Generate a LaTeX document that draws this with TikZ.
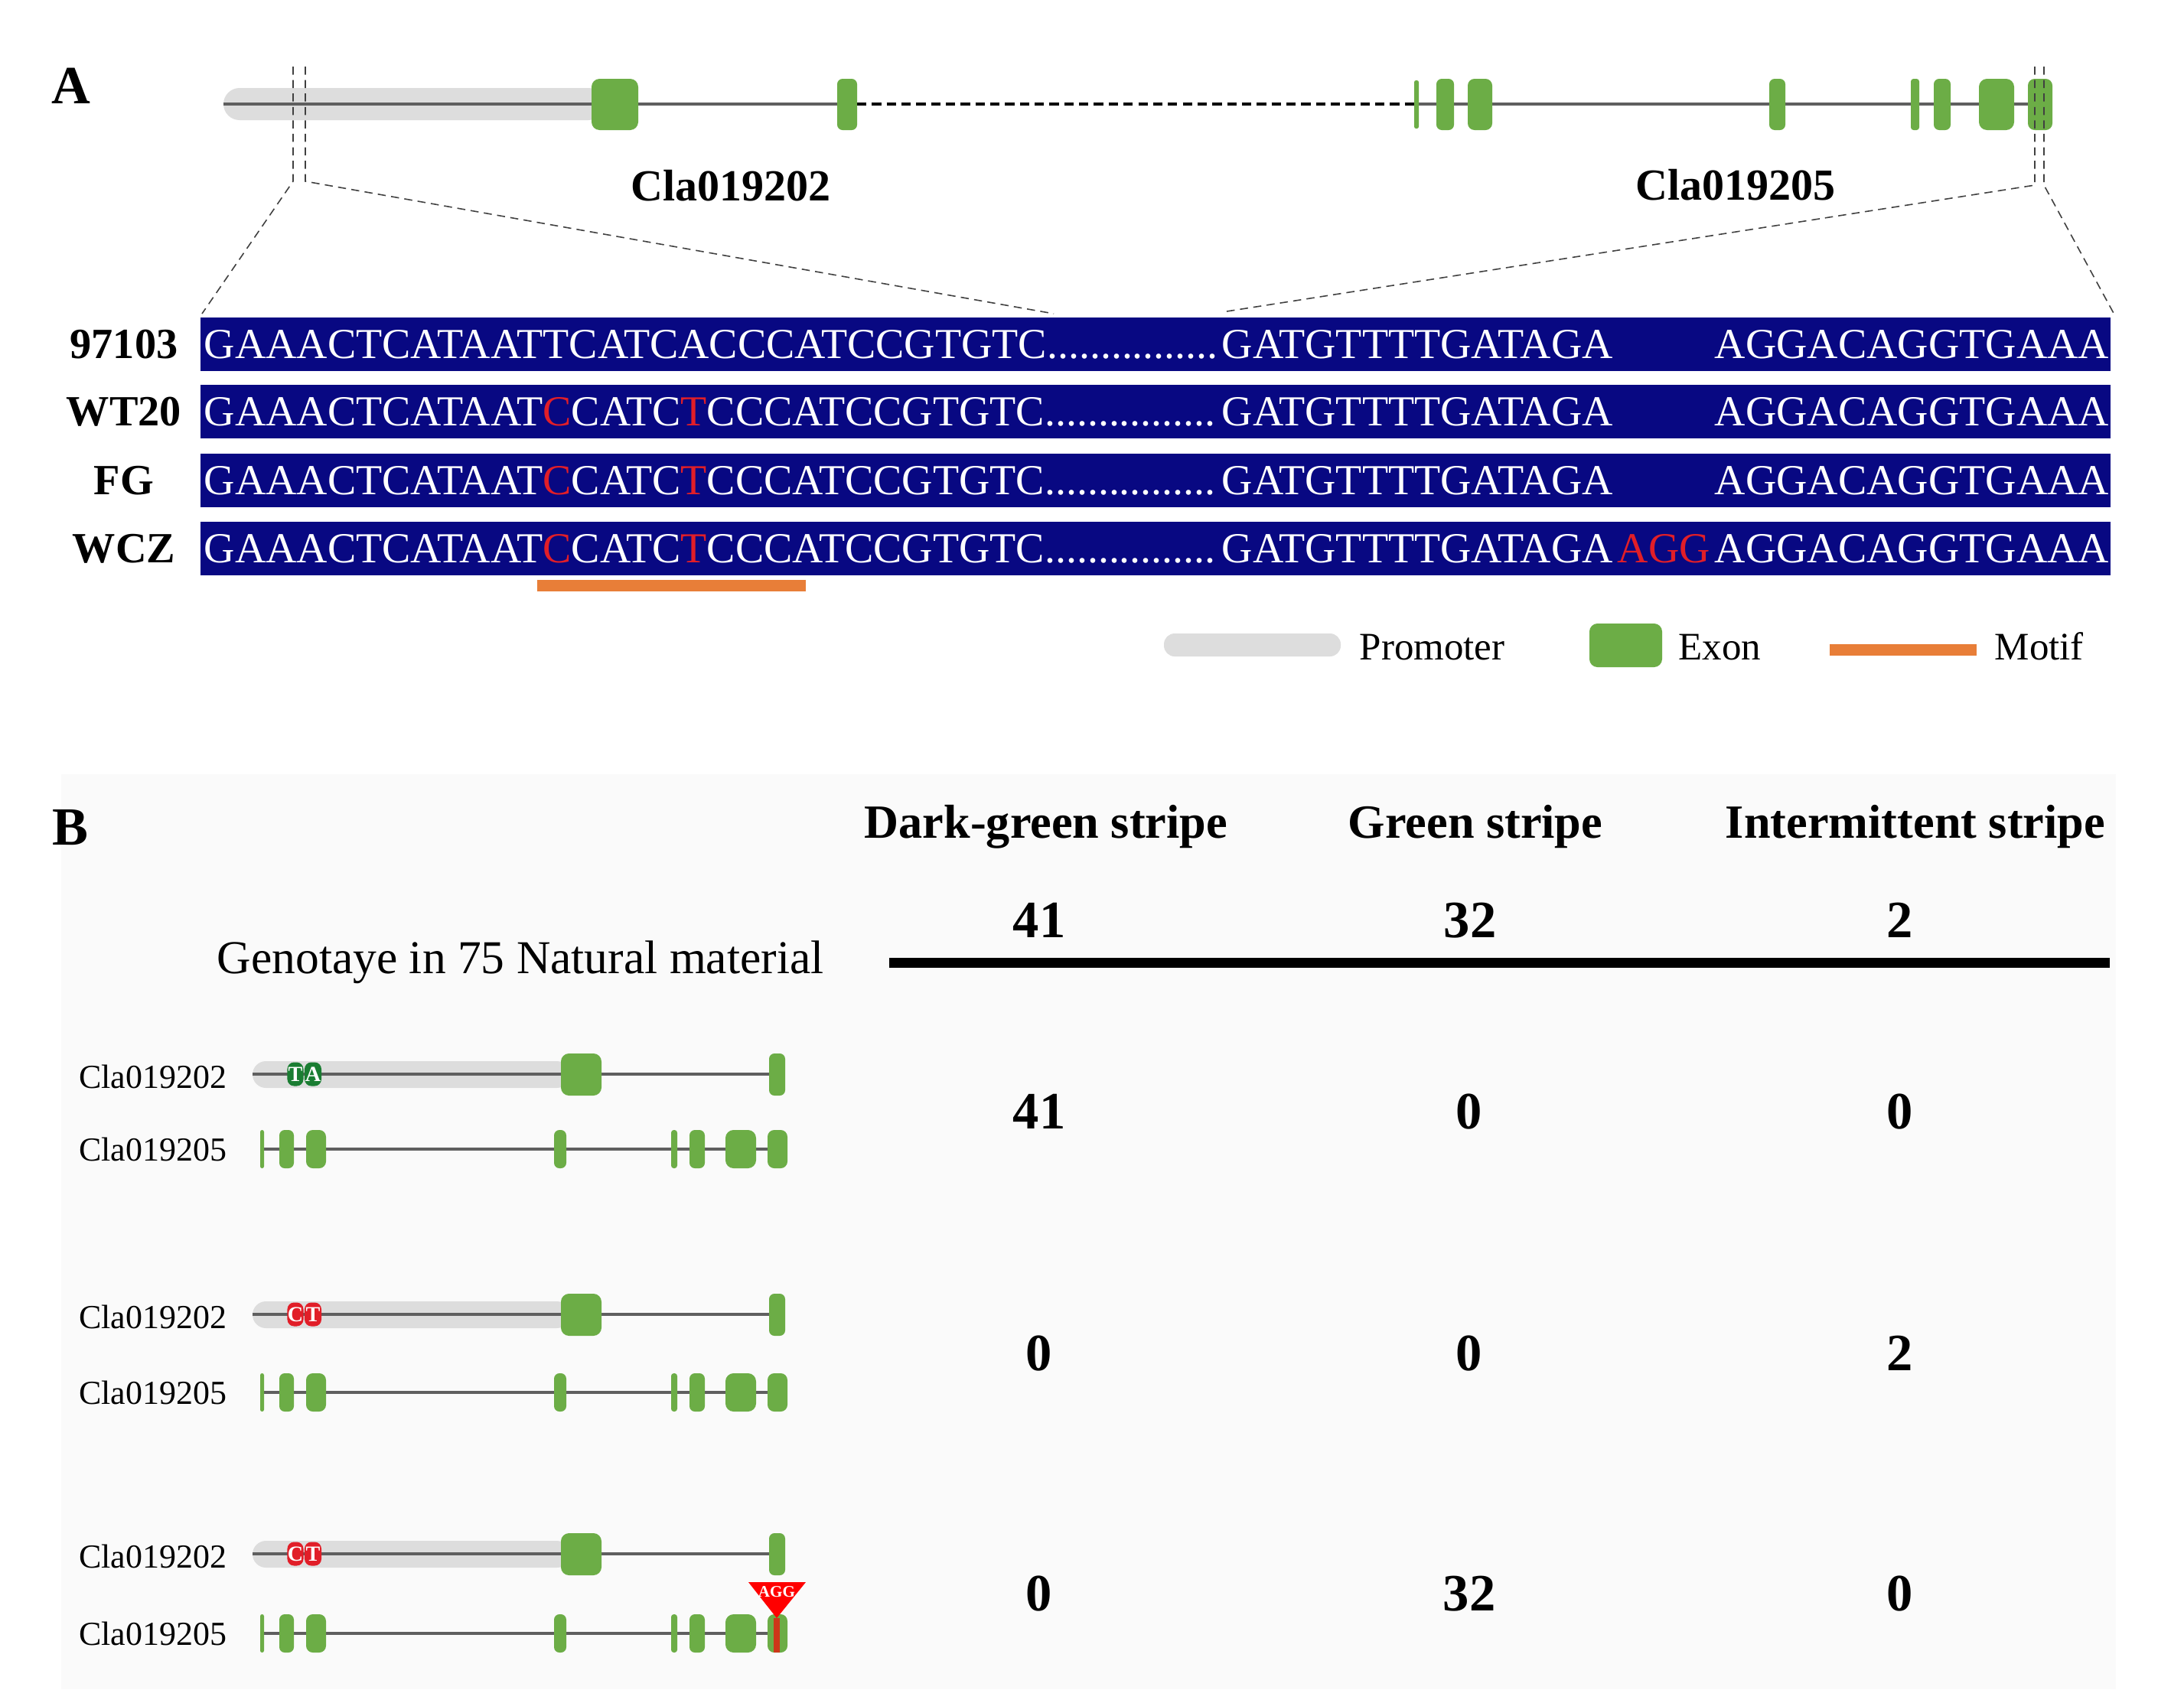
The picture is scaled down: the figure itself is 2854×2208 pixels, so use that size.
\documentclass[tikz,border=0pt]{standalone}
\usepackage{fontspec}
\setmainfont{Liberation Serif}
\definecolor{exon}{RGB}{108,173,70}
\definecolor{prom}{RGB}{221,221,221}
\definecolor{navybox}{RGB}{8,8,130}
\definecolor{mut}{RGB}{225,30,40}
\definecolor{motif}{RGB}{232,126,56}
\definecolor{snpg}{RGB}{26,125,50}
\definecolor{intron}{RGB}{95,95,95}
\definecolor{stem}{RGB}{205,55,25}
\newcommand{\exonrect}[5][2.5pt]{\fill[exon,rounded corners=#1] (#2,#4) rectangle (#3,#5);}
\begin{document}
\begin{tikzpicture}[x=0.01cm,y=-0.01cm,
  panel/.style={inner sep=0pt, font=\fontsize{20}{22}\selectfont\bfseries},
  lbl/.style={inner sep=0pt, font=\fontsize{16}{18}\selectfont\bfseries},
  genelbl/.style={inner sep=0pt, font=\fontsize{16.5}{18}\selectfont\bfseries},
  seq/.style={inner sep=0pt, text=white, font=\fontsize{15.9}{18}\selectfont},
  legtxt/.style={inner sep=0pt, font=\fontsize{14.5}{16}\selectfont},
  head/.style={inner sep=0pt, font=\fontsize{17.7}{20}\selectfont\bfseries},
  num/.style={inner sep=0pt, font=\fontsize{19.5}{22}\selectfont\bfseries},
  glbl/.style={inner sep=0pt, font=\fontsize{12.5}{14}\selectfont},
  zoomline/.style={densely dashed, line width=0.45pt, draw=black!75},
  intronline/.style={draw=intron, line width=0.9pt},
  snpbox/.style={rounded corners=2.5pt, inner sep=0pt, text=white, font=\fontsize{8}{9}\selectfont\bfseries}
]
\useasboundingbox (0,0) rectangle (2854,2208);
\fill[white] (0,0) rectangle (2854,2208);
\fill[black!2] (80,1012) rectangle (2765,2208);

% ---------------- Panel A ----------------
\node[panel] (pA) at (93,112) {A};

% promoter and gene structure
\fill[prom, rounded corners=6pt] (292,115) rectangle (790,157);
\draw[intronline] (292,136) -- (1120,136);
\draw[black, line width=0.9pt, dash pattern=on 3.5pt off 2pt] (1120,136) -- (1848,136);
\draw[intronline] (1848,136) -- (2682,136);
\exonrect[3pt]{773}{834}{103}{170}
\exonrect[2pt]{1094}{1120}{103}{170}
\exonrect[0.7pt]{1848}{1854}{105}{168}
\exonrect[2pt]{1877}{1900}{103}{170}
\exonrect[2.5pt]{1918}{1950}{103}{170}
\exonrect[2pt]{2312}{2333}{103}{170}
\exonrect[1pt]{2497}{2508}{103}{170}
\exonrect[2pt]{2527}{2549}{103}{170}
\exonrect[3pt]{2586}{2632}{103}{170}
\exonrect[2.5pt]{2650}{2682}{103}{170}

\node[genelbl] (g1) at (955,243) {Cla019202};
\node[genelbl] (g2) at (2268,242) {Cla019205};

% zoom lines
\coordinate (zl1t) at (383,87);  \coordinate (zl1b) at (383,237);
\coordinate (zl2t) at (399,87);  \coordinate (zl2b) at (399,237);
\coordinate (zr1t) at (2659,87); \coordinate (zr1b) at (2659,242);
\coordinate (zr2t) at (2671,87); \coordinate (zr2b) at (2671,242);
\coordinate (sl1) at (264,410);  \coordinate (sl2) at (1377,410);
\coordinate (sr1) at (1603,407); \coordinate (sr2) at (2764,413);
\draw[zoomline] (zl1t) -- (zl1b) -- (sl1);
\draw[zoomline] (zl2t) -- (zl2b) -- (sl2);
\draw[zoomline] (zr1t) -- (zr1b) -- (sr1);
\draw[zoomline] (zr2t) -- (zr2b) -- (sr2);

% sequence rows
\fill[navybox] (262,415) rectangle (2758,485);
\fill[navybox] (262,503) rectangle (2758,573);
\fill[navybox] (262,593) rectangle (2758,663);
\fill[navybox] (262,682) rectangle (2758,752);

\node[lbl, anchor=base] (r1) at (162,468) {97103};
\node[lbl, anchor=base] (r2) at (162,556) {WT20};
\node[lbl, anchor=base] (r3) at (162,646) {FG};
\node[lbl, anchor=base] (r4) at (162,735) {WCZ};

\node[seq, anchor=base west] (s1a) at (266,468) {GAAACTCATAATTCATCACCCATCCGTGTC................};
\node[seq, anchor=base west] (s1b) at (1596,468) {GATGTTTTGATAGA};
\node[seq, anchor=base east] (s1c) at (2757,468) {AGGACAGGTGAAA};

\node[seq, anchor=base west] (s2a) at (266,556) {GAAACTCATAAT\textcolor{mut}{C}CATC\textcolor{mut}{T}CCCATCCGTGTC................};
\node[seq, anchor=base west] (s2b) at (1596,556) {GATGTTTTGATAGA};
\node[seq, anchor=base east] (s2c) at (2757,556) {AGGACAGGTGAAA};

\node[seq, anchor=base west] (s3a) at (266,646) {GAAACTCATAAT\textcolor{mut}{C}CATC\textcolor{mut}{T}CCCATCCGTGTC................};
\node[seq, anchor=base west] (s3b) at (1596,646) {GATGTTTTGATAGA};
\node[seq, anchor=base east] (s3c) at (2757,646) {AGGACAGGTGAAA};

\node[seq, anchor=base west] (s4a) at (266,735) {GAAACTCATAAT\textcolor{mut}{C}CATC\textcolor{mut}{T}CCCATCCGTGTC................};
\node[seq, anchor=base west] (s4b) at (1596,735) {GATGTTTTGATAGA};
\node[seq, anchor=base west, text=mut] (s4i) at (2113,735) {AGG};
\node[seq, anchor=base east] (s4c) at (2757,735) {AGGACAGGTGAAA};

% motif bar
\fill[motif] (702,758) rectangle (1053,773);

% legend
\fill[prom, rounded corners=4pt] (1521,828) rectangle (1752,858);
\node[legtxt, anchor=base west] (lp) at (1776,862) {Promoter};
\fill[exon, rounded corners=3pt] (2077,815) rectangle (2172,872);
\node[legtxt, anchor=base west] (le) at (2193,862) {Exon};
\fill[motif] (2391,842) rectangle (2583,857);
\node[legtxt, anchor=base west] (lm) at (2606,862) {Motif};

% ---------------- Panel B ----------------
\node[panel] (pB) at (92,1082) {B};

\node[head, anchor=base] (h1) at (1367,1095) {Dark-green stripe};
\node[head, anchor=base] (h2) at (1928,1095) {Green stripe};
\node[head, anchor=base] (h3) at (2503,1095) {Intermittent stripe};

\node[num, anchor=base] (t1) at (1358,1225) {41};
\node[num, anchor=base] (t2) at (1921,1225) {32};
\node[num, anchor=base] (t3) at (2483,1225) {2};

\node[inner sep=0pt, font=\fontsize{17.5}{20}\selectfont, anchor=base west] (gt) at (283,1272) {Genotaye in 75 Natural material};

\coordinate (tl) at (1162,1258); \coordinate (tr) at (2757,1258);
\draw[black, line width=3.7pt] (tl) -- (tr);

\foreach \ya/\yb/\sc/\la/\lb/\na/\nb/\nc [count=\i] in
  {1404/1502/snpg/T/A/41/0/0, 1718/1820/mut/C/T/0/0/2, 2031/2135/mut/C/T/0/32/0} {
  % Cla019202
  \node[glbl, anchor=base east] (ga\i) at (297,{\ya+18}) {Cla019202};
  \fill[prom, rounded corners=5pt] (330,{\ya-17}) rectangle (745,{\ya+18});
  \draw[intronline] (330,\ya) -- (1017,\ya);
  \fill[exon, rounded corners=3pt] (733,{\ya-27}) rectangle (786,{\ya+28});
  \fill[exon, rounded corners=2pt] (1005,{\ya-27}) rectangle (1026,{\ya+28});
  \node[snpbox, fill=\sc, minimum width=0.21cm, minimum height=0.31cm] (sa\i) at (386,\ya) {\la};
  \node[snpbox, fill=\sc, minimum width=0.22cm, minimum height=0.31cm] (sb\i) at (409,\ya) {\lb};
  % Cla019205
  \node[glbl, anchor=base east] (gb\i) at (297,{\yb+15}) {Cla019205};
  \draw[intronline] (340,\yb) -- (1029,\yb);
  \fill[exon, rounded corners=0.7pt] (340,{\yb-25}) rectangle (345,{\yb+25});
  \fill[exon, rounded corners=2pt] (365,{\yb-25}) rectangle (384,{\yb+25});
  \fill[exon, rounded corners=2.5pt] (400,{\yb-25}) rectangle (426,{\yb+25});
  \fill[exon, rounded corners=2pt] (724,{\yb-25}) rectangle (740,{\yb+25});
  \fill[exon, rounded corners=1pt] (877,{\yb-25}) rectangle (885,{\yb+25});
  \fill[exon, rounded corners=2pt] (901,{\yb-25}) rectangle (921,{\yb+25});
  \fill[exon, rounded corners=3pt] (948,{\yb-25}) rectangle (988,{\yb+25});
  \fill[exon, rounded corners=2.5pt] (1003,{\yb-25}) rectangle (1029,{\yb+25});
  % counts
  \node[num] (na\i) at (1358,{(\ya+\yb)/2}) {\na};
  \node[num] (nb\i) at (1920,{(\ya+\yb)/2}) {\nb};
  \node[num] (nc\i) at (2483,{(\ya+\yb)/2}) {\nc};
}

% AGG insertion
\coordinate (ins) at (1015,2115);
\fill[red] (978,2068) -- (1053,2068) -- (ins) -- cycle;
\draw[stem, line width=2.3pt] (ins) -- (1015,2160);
\node[inner sep=0pt, text=white, font=\fontsize{6}{7}\selectfont\bfseries] (agg) at (1015,2081) {AGG};

\end{tikzpicture}
\end{document}
